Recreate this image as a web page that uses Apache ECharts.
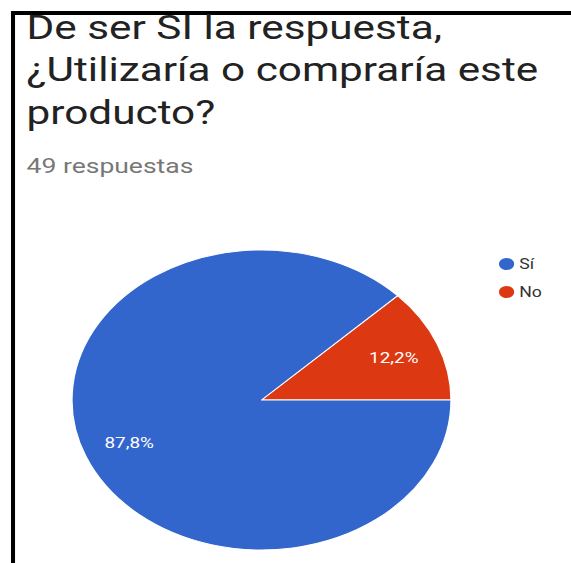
<!DOCTYPE html>
<html>
<head>
<meta charset="utf-8">
<script src="https://cdn.jsdelivr.net/npm/echarts@6/dist/echarts.min.js"></script>
<style>
  html, body { margin: 0; padding: 0; background: #fff; overflow: hidden; }
  #chart {
    position: absolute; left: 0; top: 0;
    width: 452px; height: 563px;
    transform: scaleX(1.2633);
    transform-origin: 0 0;
  }
</style>
</head>
<body>
<div id="chart"></div>
<script>
// Survey answers
const categories = ['Sí', 'No'];
const counts = [43, 6];
const colors = ['#3366CC', '#DC3912'];

const titleLines = ['De ser SI la respuesta,', '¿Utilizaría o compraría este', 'producto?'];
const totalLabel = counts.reduce((a, b) => a + b, 0) + ' respuestas';

// Slices run counter-clockwise from 3 o'clock, smallest answer first
const order = [1, 0];
const pieData = order.map(i => ({
  name: categories[i],
  value: counts[i],
  itemStyle: { color: colors[i] }
}));

const fmtPct = p => p.percent.toFixed(1).replace('.', ',') + '%';

const chart = echarts.init(document.getElementById('chart'), null, { renderer: 'svg' });
chart.setOption({
  backgroundColor: '#fff',
  animation: false,
  title: [
    {
      text: titleLines.join('\n'),
      left: 21, top: 6, padding: 0,
      textStyle: { fontFamily: 'Roboto', fontSize: 33.5, fontWeight: 'normal', color: '#222', lineHeight: 42.5 }
    },
    {
      text: totalLabel,
      left: 21, top: 154, padding: 0,
      textStyle: { fontFamily: 'Roboto', fontSize: 21, fontWeight: 'normal', color: '#777', lineHeight: 24 }
    }
  ],
  legend: {
    orient: 'vertical',
    left: 388, top: 251,
    itemWidth: 14, itemHeight: 14, itemGap: 12,
    icon: 'circle',
    data: categories.map((c, i) => ({ name: c, itemStyle: { color: colors[i] } })),
    textStyle: { fontFamily: 'Roboto', fontSize: 14, color: '#333', padding: [0, 0, 0, -2] },
    selectedMode: false
  },
  graphic: [
    { type: 'rect', shape: { x: 8.7, y: 11, width: 3.2, height: 560 }, style: { fill: '#000' }, silent: true },
    { type: 'rect', shape: { x: 8.7, y: 11, width: 450, height: 4 }, style: { fill: '#000' }, silent: true }
  ],
  series: [
    {
      type: 'pie',
      center: [207, 400],
      radius: [0, 150],
      startAngle: 0,
      clockwise: false,
      avoidLabelOverlap: false,
      label: { show: false },
      labelLine: { show: false },
      itemStyle: { borderColor: '#fff', borderWidth: 1 },
      emphasis: { disabled: true },
      data: pieData
    },
    {
      // label ring: places the percentages at ~3/4 of the radius
      type: 'pie',
      center: [207, 400],
      radius: [70, 150],
      startAngle: 0,
      clockwise: false,
      silent: true,
      avoidLabelOverlap: false,
      itemStyle: { color: 'rgba(0,0,0,0)' },
      label: {
        show: true, position: 'inside', formatter: fmtPct,
        fontFamily: 'Roboto', fontSize: 15, color: '#fff'
      },
      labelLine: { show: false },
      emphasis: { disabled: true },
      data: order.map(i => ({ name: categories[i], value: counts[i] }))
    }
  ]
});
</script>
</body>
</html>
